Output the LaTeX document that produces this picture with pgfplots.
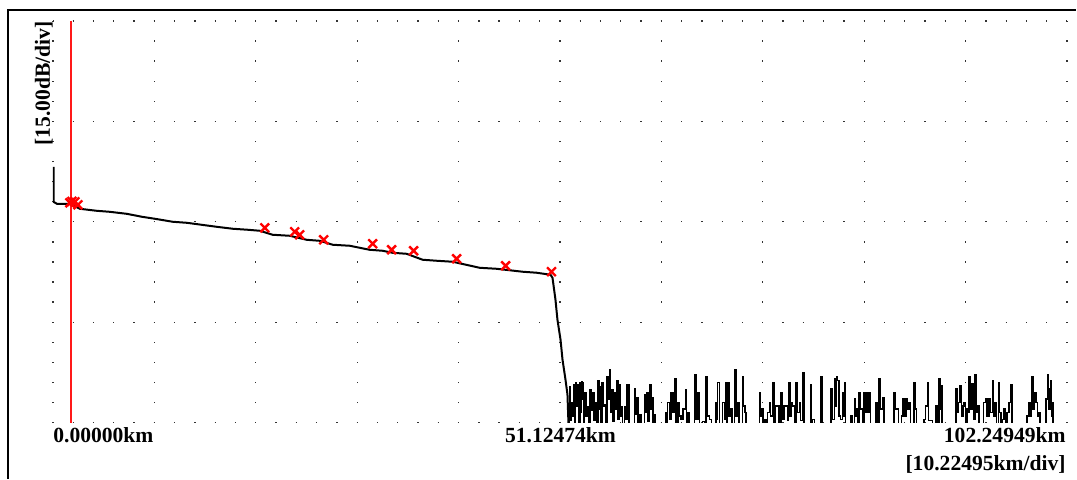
\documentclass[border=0pt]{standalone}
\usepackage{fontspec}
\setmainfont{Liberation Serif}
\usepackage{pgfplots}
\pgfplotsset{compat=1.18}
\begin{document}
\begin{tikzpicture}
\begin{axis}[
  at={(0pt,0pt)}, anchor=south west,
  scale only axis, width=507.5pt, height=201pt,
  xmin=0, xmax=102.24949, ymin=0, ymax=60,
  xtick={0,10.22495,20.44990,30.67485,40.89980,51.12474,61.34969,71.57464,81.79959,92.02454,102.24949},
  ytick={0,15,30,45,60},
  xticklabels={}, yticklabels={}, major tick length=0pt,
  grid=major,
  x grid style={black!80, line width=0.65pt, dash pattern=on 0.65pt off 9.4pt, dash phase=0.32pt},
  y grid style={black!80, line width=0.65pt, dash pattern=on 0.65pt off 9.5pt, dash phase=0.32pt},
  axis line style={draw=none},
  clip=true,
]
% red cursor
\addplot[red!90!white, line width=0.8pt] coordinates {(1.81,0) (1.81,60)};
% trace
\addplot[black, line width=1pt] table {
x y
0.06 38.21
0.06 32.98
0.40 32.69
1.71 32.69
2.72 31.94
4.43 31.64
5.74 31.49
7.45 31.19
8.97 30.75
10.28 30.45
12.09 30.00
13.50 29.85
15.01 29.55
16.52 29.25
18.13 28.96
19.64 28.81
20.85 28.66
22.16 28.06
23.88 27.91
25.59 27.31
26.90 27.16
28.21 26.57
29.92 26.42
31.93 25.82
33.24 25.67
34.25 25.37
35.66 25.22
37.27 24.33
38.68 24.18
40.30 24.03
43.02 23.13
44.73 22.98
47.35 22.54
48.76 22.39
50.17 22.09
50.37 21.64
50.67 18.36
50.87 15.37
51.18 12.39
51.38 9.40
51.68 6.42
51.88 4.18
52.00 -1.0
};
% noise floor
\addplot[black, line width=0.75pt, const plot] table {
x y
52.00 -1.0
52.10 5.4
52.20 0.3
52.30 3.0
52.40 1.0
52.50 5.7
52.60 -1.0
52.70 6.0
52.80 2.5
52.95 5.7
53.05 -1.0
53.12 6.0
53.20 1.5
53.28 6.1
53.36 3.5
53.45 6.0
53.52 -1.0
53.62 4.5
53.75 1.0
53.93 2.4
54.05 -1.0
54.17 4.9
54.30 1.8
54.44 4.5
54.55 0.3
54.67 3.0
54.80 -1.0
54.94 6.2
55.05 2.0
55.18 5.4
55.28 -1.0
55.38 6.0
55.50 2.5
55.61 2.7
55.75 -1.0
55.88 6.9
56.00 3.5
56.12 7.9
56.24 1.5
56.35 4.9
56.48 0.2
56.62 4.5
56.74 2.0
56.86 6.2
56.98 0.5
57.12 5.7
57.20 1.0
57.29 2.4
57.45 -1.0
57.63 2.4
57.75 0.5
57.86 5.7
57.95 2.5
58.03 5.7
58.10 -1.0
58.50 -1.0
58.64 5.0
58.75 1.2
58.87 3.7
59.00 -1.0
59.14 1.2
59.30 -1.0
59.50 -1.0
59.64 4.2
59.75 1.5
59.88 4.5
60.00 0.2
60.15 5.7
60.28 2.0
60.41 3.7
60.52 -1.0
60.65 1.2
60.75 -1.0
61.70 -1.0
61.76 1.5
61.88 -1.0
61.99 3.0
62.15 0.5
62.33 4.5
62.50 1.5
62.66 6.6
62.80 -1.0
63.00 3.0
63.15 1.0
63.34 0.5
63.55 2.0
63.77 4.9
63.90 -1.0
64.01 1.5
64.20 -1.0
64.50 -1.0
64.68 7.1
64.85 0.5
65.02 4.5
65.20 -1.0
65.52 0.2
65.70 -1.0
65.86 6.9
66.00 1.0
66.19 0.5
66.40 -1.0
66.60 -1.0
66.86 3.0
66.95 0.5
67.03 6.0
67.20 -1.0
67.35 -1.0
67.53 3.0
67.70 0.5
67.87 6.0
67.95 -1.0
68.04 6.0
68.15 1.0
68.30 2.0
68.45 -1.0
68.71 7.9
68.85 1.0
69.00 3.0
69.20 -1.0
69.40 -1.0
69.55 6.9
69.65 2.5
69.78 1.5
69.90 -1.0
71.10 -1.0
71.23 4.5
71.35 1.0
71.50 2.0
71.62 -1.0
71.73 0.5
71.90 -1.0
72.05 1.5
72.23 3.0
72.35 1.0
72.57 6.0
72.70 -1.0
72.85 2.5
73.07 2.5
73.20 -1.0
73.41 4.5
73.55 0.5
73.70 2.5
73.91 2.5
74.05 0.3
74.18 6.0
74.30 1.0
74.45 3.0
74.58 2.5
74.75 -1.0
74.92 6.0
75.05 1.5
75.26 3.0
75.40 0.3
75.59 7.5
75.75 -1.0
76.15 -1.0
76.36 5.7
76.48 -1.0
76.60 0.5
76.80 -1.0
77.20 -1.0
77.44 6.9
77.58 -1.0
78.40 -1.0
78.45 5.0
78.55 0.5
78.78 6.6
78.90 2.5
79.00 6.9
79.12 6.3
79.25 1.0
79.40 0.5
79.62 4.5
79.70 1.0
79.79 6.0
79.90 -1.0
80.30 -1.0
80.46 1.0
80.60 -1.0
80.80 3.5
80.90 1.0
81.05 2.0
81.15 -1.0
81.30 4.5
81.45 2.0
81.60 2.0
81.70 -1.0
81.80 4.5
81.95 1.5
82.10 4.5
82.20 1.5
82.31 4.5
82.45 -1.0
82.80 -1.0
82.98 3.0
83.10 -1.0
83.31 6.6
83.45 2.0
83.65 3.7
83.80 -1.0
84.70 -1.0
84.82 4.5
84.95 2.0
85.10 2.0
85.25 -1.0
85.55 1.0
85.66 3.5
85.80 1.0
86.00 3.5
86.15 2.0
86.33 3.0
86.45 -1.0
86.60 -1.0
86.84 6.0
86.95 2.0
87.05 -1.0
87.75 -1.0
87.85 0.5
88.00 2.5
88.18 6.0
88.30 0.3
88.70 -1.0
89.02 2.5
89.15 -1.0
89.36 6.6
89.45 2.0
89.52 5.5
89.65 -1.0
90.95 -1.0
91.04 5.0
91.15 1.5
91.30 3.0
91.47 5.5
91.60 1.0
91.75 2.5
91.88 3.0
92.00 -1.0
92.15 2.0
92.25 1.5
92.38 6.9
92.50 2.0
92.65 5.8
92.80 0.5
92.98 7.1
93.10 1.5
93.22 2.5
93.35 -1.0
93.55 -1.0
93.85 3.0
94.06 3.5
94.20 1.0
94.40 3.5
94.55 1.5
94.73 6.3
94.85 1.0
95.00 3.0
95.15 -1.0
95.33 6.0
95.45 1.5
95.60 -1.0
95.75 0.5
95.90 2.0
96.05 -1.0
96.20 1.5
96.40 3.0
96.58 5.7
96.70 -1.0
98.05 -1.0
98.20 1.0
98.40 3.0
98.55 1.0
98.69 6.9
98.80 2.0
98.95 4.5
99.10 3.0
99.25 1.0
99.40 1.5
99.55 -1.0
100.00 -1.0
100.15 3.5
100.27 7.1
100.40 2.0
100.52 5.0
100.61 6.3
100.70 1.0
100.77 3.0
100.85 -1.0
};
% event markers
\addplot[only marks, mark=x, mark size=3.1pt, red, line width=1.2pt] coordinates {
(1.71,32.84) (1.91,33.05) (2.22,32.99) (2.52,32.54)
(21.36,29.10) (24.38,28.51) (24.88,28.06) (27.30,27.31)
(32.24,26.72) (34.15,25.82) (36.37,25.67) (40.70,24.48)
(45.64,23.43) (50.27,22.54)
};
\end{axis}
% labels
\node[anchor=base west, inner sep=0pt, font=\fontsize{10.8}{12}\selectfont\bfseries] at (0pt,-10pt) {0.00000km};
\node[anchor=base, inner sep=0pt, font=\fontsize{10.8}{12}\selectfont\bfseries] at (254pt,-10pt) {51.12474km};
\node[anchor=base east, inner sep=0pt, font=\fontsize{10.8}{12}\selectfont\bfseries] at (507pt,-10pt) {102.24949km};
\node[anchor=base east, inner sep=0pt, font=\fontsize{10.8}{12}\selectfont\bfseries] at (507pt,-24pt) {[10.22495km/div]};
\node[anchor=base east, rotate=90, inner sep=0pt, font=\fontsize{10.8}{12}\selectfont\bfseries] at (-1.5pt,201pt) {[15.00dB/div]};
\draw[line width=1pt] (-22.5pt,-28pt) -- (-22.5pt,206.5pt) -- (512pt,206.5pt);
\path (-26.5pt,-28pt) rectangle (512pt,211.5pt);
\end{tikzpicture}
\end{document}
